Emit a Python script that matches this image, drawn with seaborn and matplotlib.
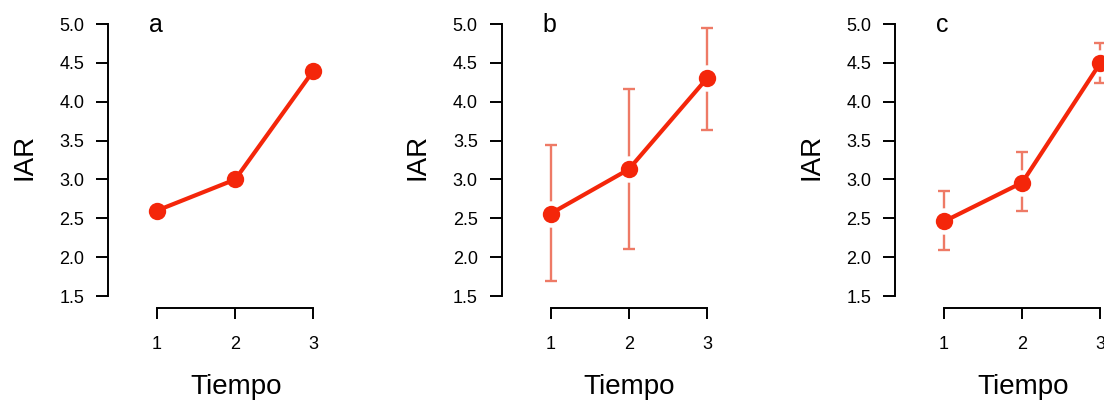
import numpy as np
import seaborn as sns
import matplotlib
matplotlib.use('Agg')
import matplotlib.pyplot as plt

# datos
tiempo = [1, 2, 3]
paneles = ['a', 'b', 'c']

iar_a = [2.60, 3.00, 4.40]

iar_b = [2.56, 3.13, 4.30]
b_inf = [1.69, 2.10, 3.64]
b_sup = [3.44, 4.16, 4.95]

iar_c = [2.46, 2.96, 4.50]
c_inf = [2.09, 2.59, 4.24]
c_sup = [2.85, 3.35, 4.75]

y_ticks = [1.5, 2.0, 2.5, 3.0, 3.5, 4.0, 4.5, 5.0]

medias = [iar_a, iar_b, iar_c]
inferiores = [None, b_inf, c_inf]
superiores = [None, b_sup, c_sup]

sns.set_style('ticks')
plt.rcParams['font.family'] = ['Liberation Sans', 'DejaVu Sans']
plt.rcParams['text.color'] = 'black'
plt.rcParams['axes.labelcolor'] = 'black'
plt.rcParams['xtick.color'] = 'black'
plt.rcParams['ytick.color'] = 'black'
plt.rcParams['axes.edgecolor'] = 'black'

rojo = '#F4260A'
salmon = '#EE7A66'

W, H = 1104, 401
fig = plt.figure(figsize=(W / 100, H / 100), dpi=100)

for i, letra in enumerate(paneles):
    izq = 108 + i * 393.5
    ax = fig.add_axes([izq / W, 93 / H, 221 / W, 291.7 / H])
    ax.set_xlim(0.373, 3.2)
    ax.set_ylim(1.346, 5.1)

    y = medias[i]
    if inferiores[i] is not None:
        err = [np.array(y) - np.array(inferiores[i]), np.array(superiores[i]) - np.array(y)]
        ax.errorbar(tiempo, y, yerr=err, fmt='none', ecolor=salmon,
                    elinewidth=1.7, capsize=4, capthick=1.7, zorder=1, clip_on=False)
        # halo blanco alrededor de los puntos
        ax.plot(tiempo, y, 'o', color='white', markersize=19, markeredgewidth=0,
                zorder=2, clip_on=False)

    sns.lineplot(x=tiempo, y=y, ax=ax, color=rojo, linewidth=3, marker='o',
                 markersize=12.5, markeredgewidth=0, zorder=3, clip_on=False)

    ax.set_xticks(tiempo)
    ax.set_yticks(y_ticks)
    ax.set_yticklabels([f'{v:.1f}' for v in y_ticks])
    sns.despine(ax=ax)
    ax.spines['left'].set_bounds(1.5, 5.0)
    ax.spines['bottom'].set_bounds(1, 3)
    ax.spines['left'].set_linewidth(1.4)
    ax.spines['bottom'].set_linewidth(1.4)
    ax.tick_params(axis='y', length=8.6, width=1.4, pad=8.5, labelsize=13)
    ax.tick_params(axis='x', length=8, width=1.4, pad=12, labelsize=13)

    ax.set_ylabel('IAR', fontsize=20)
    ax.yaxis.label.set_verticalalignment('center')
    ax.yaxis.set_label_coords(-0.38, 0.518)
    ax.set_xlabel('Tiempo', fontsize=20)
    ax.xaxis.label.set_verticalalignment('baseline')
    ax.xaxis.set_label_coords(0.578, -0.295)

    ax.text(0.9, 4.9, letra, ha='left', va='baseline', fontsize=18)

fig.savefig('out.png', dpi=100)
